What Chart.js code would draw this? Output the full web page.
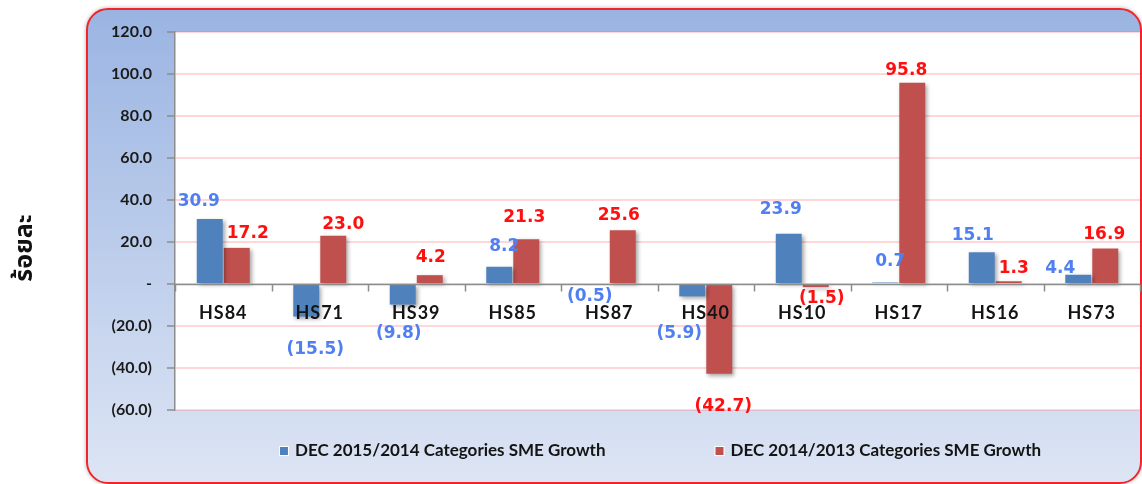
<!DOCTYPE html>
<html lang="th">
<head>
    <meta charset="UTF-8">
    <title>SME Growth by HS Category</title>
    <script src="https://cdn.jsdelivr.net/npm/chart.js"></script>
    <style>
        html, body { margin: 0; padding: 0; background: #fff; }
        body { width: 1142px; height: 484px; position: relative; overflow: hidden; }
        #moldura {
            position: absolute; left: 86px; top: 8px;
            width: 1052px; height: 472px;
            border: 2px solid #f0242a; border-radius: 22px;
            background: linear-gradient(#9ab4e2, #dde5f4);
            box-shadow: 0 0 4px rgba(0, 0, 0, 0.3);
        }
        #grafico { position: absolute; left: 0; top: 0; }
    </style>
</head>
<body>
    <div id="moldura"></div>
    <canvas id="grafico" width="1142" height="484"></canvas>

    <script>
        // categorias e valores (% de crescimento)
        const categorias = ['HS84', 'HS71', 'HS39', 'HS85', 'HS87', 'HS40', 'HS10', 'HS17', 'HS16', 'HS73'];
        const serie2015 = [30.9, -15.5, -9.8, 8.2, -0.5, -5.9, 23.9, 0.7, 15.1, 4.4];
        const serie2014 = [17.2, 23.0, 4.2, 21.3, 25.6, -42.7, -1.5, 95.8, 1.3, 16.9];
        const nomes = ['DEC 2015/2014 Categories SME Growth', 'DEC 2014/2013 Categories SME Growth'];
        const tituloY = 'ร้อยละ';

        // deslocamento dos rótulos em relação à ponta da barra (px)
        const desloc2015 = [[-11, -18], [9, 33], [-4, 29], [5, -20], [-6, 12], [-13, 37], [-8, -24], [5, -21], [-9, -17], [-18, -6]];
        const desloc2014 = [[11, -14], [10, -11], [1, -18], [-2, -22], [-4, -15], [4, 33], [6, 11], [-6, -12], [5, -13], [-1, -14]];

        function formatar(v) {
            if (v === 0) return '-';
            const s = Math.abs(v).toFixed(1);
            return v < 0 ? '(' + s + ')' : s;
        }

        const fundoPlot = {
            id: 'fundoPlot',
            beforeDraw(chart) {
                const a = chart.chartArea;
                chart.ctx.save();
                chart.ctx.fillStyle = '#ffffff';
                chart.ctx.fillRect(a.left, a.top, a.right - a.left, a.bottom - a.top);
                chart.ctx.restore();
            }
        };

        const sombra = {
            id: 'sombra',
            beforeDatasetsDraw(chart) {
                const ctx = chart.ctx;
                ctx.save();
                ctx.shadowColor = 'rgba(0,0,0,0.35)';
                ctx.shadowBlur = 4;
                ctx.shadowOffsetX = 2;
                ctx.shadowOffsetY = 2;
            },
            afterDatasetsDraw(chart) {
                chart.ctx.restore();
            }
        };

        const eixoZero = {
            id: 'eixoZero',
            afterDatasetsDraw(chart) {
                const ctx = chart.ctx;
                const x = chart.scales.x, y = chart.scales.y;
                const a = chart.chartArea;
                const y0 = Math.round(y.getPixelForValue(0)) + 0.5;
                const meia = (x.getPixelForValue(1) - x.getPixelForValue(0)) / 2;
                ctx.save();
                ctx.strokeStyle = '#8c8c8c';
                ctx.lineWidth = 1.5;
                ctx.beginPath();
                ctx.moveTo(a.left, y0);
                ctx.lineTo(a.right, y0);
                for (let i = 0; i <= categorias.length; i++) {
                    const xt = Math.round(x.getPixelForValue(i) - meia) + 0.5;
                    ctx.moveTo(xt, y0);
                    ctx.lineTo(xt, y0 + 7);
                }
                ctx.stroke();

                ctx.fillStyle = '#141414';
                ctx.font = 'bold 18px Lato';
                ctx.letterSpacing = '1px';
                ctx.textAlign = 'center';
                ctx.textBaseline = 'middle';
                categorias.forEach((c, i) => {
                    ctx.fillText(c, x.getPixelForValue(i), y0 + 29);
                });
                ctx.restore();
            }
        };

        const rotulos = {
            id: 'rotulos',
            afterDatasetsDraw(chart) {
                const ctx = chart.ctx;
                ctx.save();
                ctx.font = 'bold 17px "DejaVu Sans"';
                ctx.textAlign = 'center';
                ctx.textBaseline = 'middle';
                chart.data.datasets.forEach((ds, d) => {
                    const desloc = d === 0 ? desloc2015 : desloc2014;
                    ctx.fillStyle = d === 0 ? '#4f7ff0' : '#ff1010';
                    chart.getDatasetMeta(d).data.forEach((barra, i) => {
                        ctx.fillText(formatar(ds.data[i]), barra.x + desloc[i][0], barra.y + desloc[i][1]);
                    });
                });
                ctx.restore();
            }
        };

        const legenda = {
            id: 'legenda',
            afterDraw(chart) {
                const ctx = chart.ctx;
                const a = chart.chartArea;
                const ds = chart.data.datasets;
                ctx.save();
                ctx.font = 'bold 17px Lato';
                ctx.textBaseline = 'middle';
                const caixa = 8, folga = 7, entre = 110;
                const larguras = ds.map(d => ctx.measureText(d.label).width);
                let total = 0;
                larguras.forEach((w, i) => total += caixa + folga + w + (i ? entre : 0));
                let x = (a.left + a.right) / 2 + 3 - total / 2;
                const yl = 451;
                ds.forEach((d, i) => {
                    ctx.fillStyle = '#ffffff';
                    ctx.fillRect(x - 1, yl - caixa / 2 - 1, caixa + 2, caixa + 2);
                    ctx.fillStyle = d.backgroundColor;
                    ctx.fillRect(x, yl - caixa / 2, caixa, caixa);
                    ctx.fillStyle = '#141414';
                    ctx.fillText(d.label, x + caixa + folga, yl);
                    x += caixa + folga + larguras[i] + entre;
                });
                ctx.restore();
            }
        };

        const tituloEixo = {
            id: 'tituloEixo',
            afterDraw(chart) {
                const ctx = chart.ctx;
                ctx.save();
                ctx.translate(27, 248);
                ctx.rotate(-Math.PI / 2);
                ctx.font = 'bold 25px "Noto Sans Thai", "Noto Sans", sans-serif';
                ctx.fillStyle = '#111';
                ctx.textAlign = 'center';
                ctx.textBaseline = 'middle';
                ctx.fillText(tituloY, 0, 0);
                ctx.restore();
            }
        };

        new Chart(document.getElementById('grafico'), {
            type: 'bar',
            data: {
                labels: categorias,
                datasets: [{
                    label: nomes[0],
                    data: serie2015,
                    backgroundColor: '#4f81bd'
                }, {
                    label: nomes[1],
                    data: serie2014,
                    backgroundColor: '#c0504d'
                }]
            },
            options: {
                responsive: false,
                animation: false,
                devicePixelRatio: 1,
                categoryPercentage: 0.56,
                barPercentage: 0.96,
                layout: { padding: { left: 86, top: 32, right: 2, bottom: 74 } },
                plugins: {
                    legend: { display: false },
                    tooltip: { enabled: false }
                },
                scales: {
                    x: { display: false },
                    y: {
                        min: -60,
                        max: 120,
                        afterFit(s) { s.width = 89; },
                        border: { display: true, color: '#8c8c8c', width: 1.5 },
                        grid: {
                            color: 'rgba(255, 110, 110, 0.28)',
                            lineWidth: 2,
                            tickColor: '#8c8c8c',
                            tickLength: 8,
                            tickWidth: 1.5
                        },
                        ticks: {
                            stepSize: 20,
                            padding: 15,
                            color: '#1a1a1a',
                            font: { family: 'Lato', weight: 'bold', size: 16 },
                            callback: v => formatar(v)
                        }
                    }
                }
            },
            plugins: [fundoPlot, sombra, eixoZero, rotulos, legenda, tituloEixo]
        });
    </script>
</body>
</html>
